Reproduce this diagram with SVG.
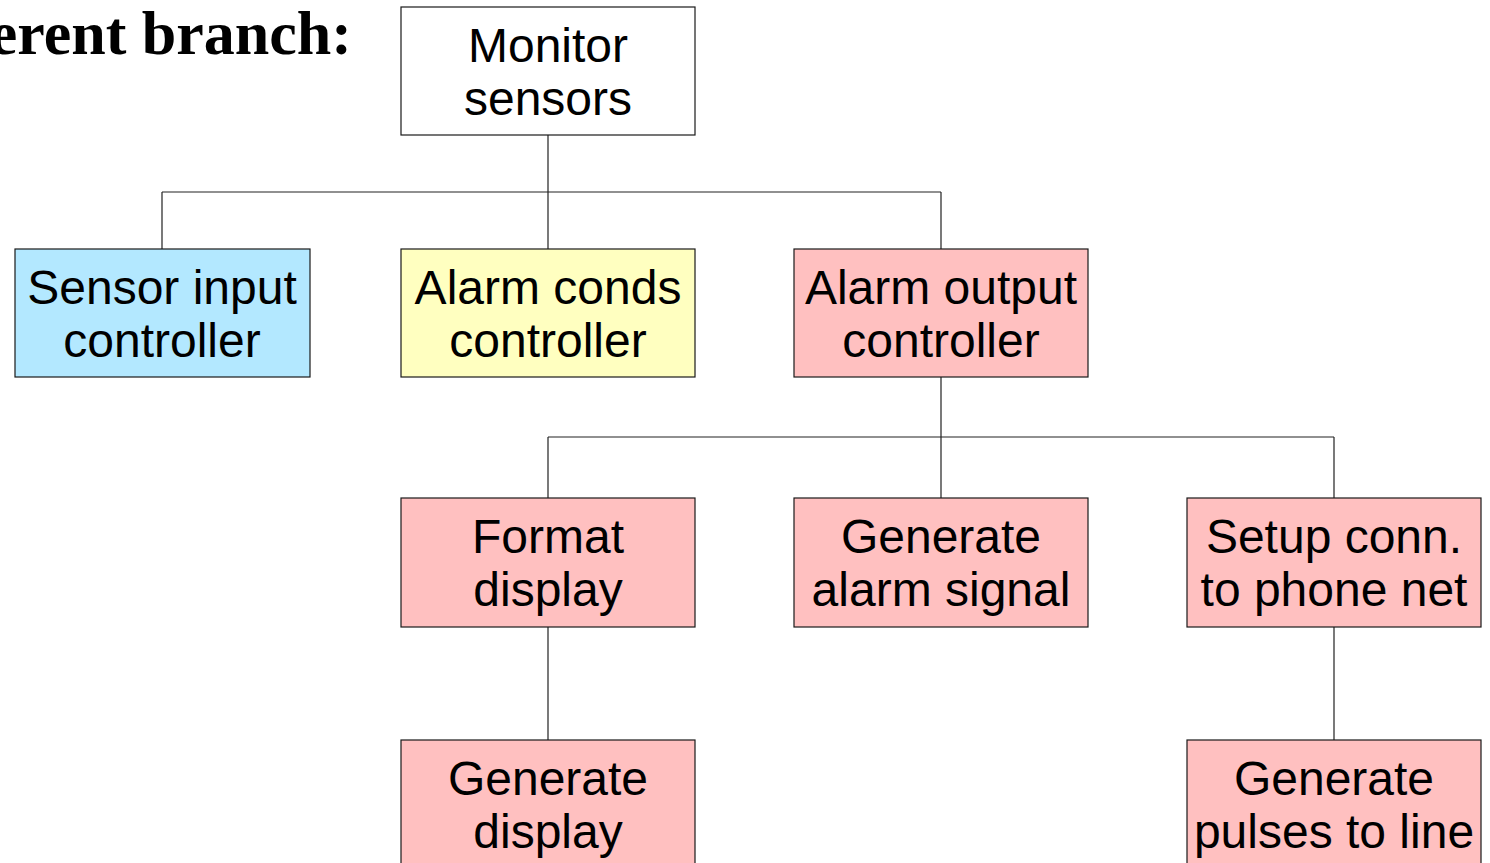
<svg xmlns="http://www.w3.org/2000/svg" width="1490" height="863" viewBox="0 0 1490 863">
<style>
.box{stroke:#1a1a1a;stroke-width:1.2}
.blue{fill:#b3e8ff}
.yellow{fill:#ffffc0}
.pink{fill:#ffc0c0}
.white{fill:#ffffff}
.t{font-family:"Liberation Sans",Arial,sans-serif;font-size:48px;fill:#000;text-anchor:middle}
.title{font-family:"Liberation Serif","Times New Roman",serif;font-size:62px;font-weight:bold;fill:#000;text-anchor:end}
.c{stroke:#222;stroke-width:1.2;fill:none}
</style>
<rect width="1490" height="863" fill="#fff"/>
<text class="title" x="352" y="54">erent branch:</text>
<g id="connectors">
<path class="c" d="M548 135V192M162 192H941M162 192V249M548 192V249M941 192V249"/>
<path class="c" d="M941 377V437M548 437H1334M548 437V498M941 437V498M1334 437V498"/>
<path class="c" d="M548 627V740M1334 627V740"/>
</g>
<g id="monitor"><rect class="box white" x="401" y="7" width="294" height="128"/><text class="t" x="548" y="62">Monitor</text><text class="t" x="548" y="115">sensors</text></g>
<g id="sensor"><rect class="box blue" x="15" y="249" width="295" height="128"/><text class="t" x="162" y="304">Sensor input</text><text class="t" x="162" y="357">controller</text></g>
<g id="alarmconds"><rect class="box yellow" x="401" y="249" width="294" height="128"/><text class="t" x="548" y="304">Alarm conds</text><text class="t" x="548" y="357">controller</text></g>
<g id="alarmout"><rect class="box pink" x="794" y="249" width="294" height="128"/><text class="t" x="941" y="304">Alarm output</text><text class="t" x="941" y="357">controller</text></g>
<g id="format"><rect class="box pink" x="401" y="498" width="294" height="129"/><text class="t" x="548" y="553">Format</text><text class="t" x="548" y="606">display</text></g>
<g id="genalarm"><rect class="box pink" x="794" y="498" width="294" height="129"/><text class="t" x="941" y="553">Generate</text><text class="t" x="941" y="606">alarm signal</text></g>
<g id="setup"><rect class="box pink" x="1187" y="498" width="294" height="129"/><text class="t" x="1334" y="553">Setup conn.</text><text class="t" x="1334" y="606">to phone net</text></g>
<g id="gendisplay"><rect class="box pink" x="401" y="740" width="294" height="130"/><text class="t" x="548" y="795">Generate</text><text class="t" x="548" y="848">display</text></g>
<g id="genpulses"><rect class="box pink" x="1187" y="740" width="294" height="130"/><text class="t" x="1334" y="795">Generate</text><text class="t" x="1334" y="848">pulses to line</text></g>
</svg>
